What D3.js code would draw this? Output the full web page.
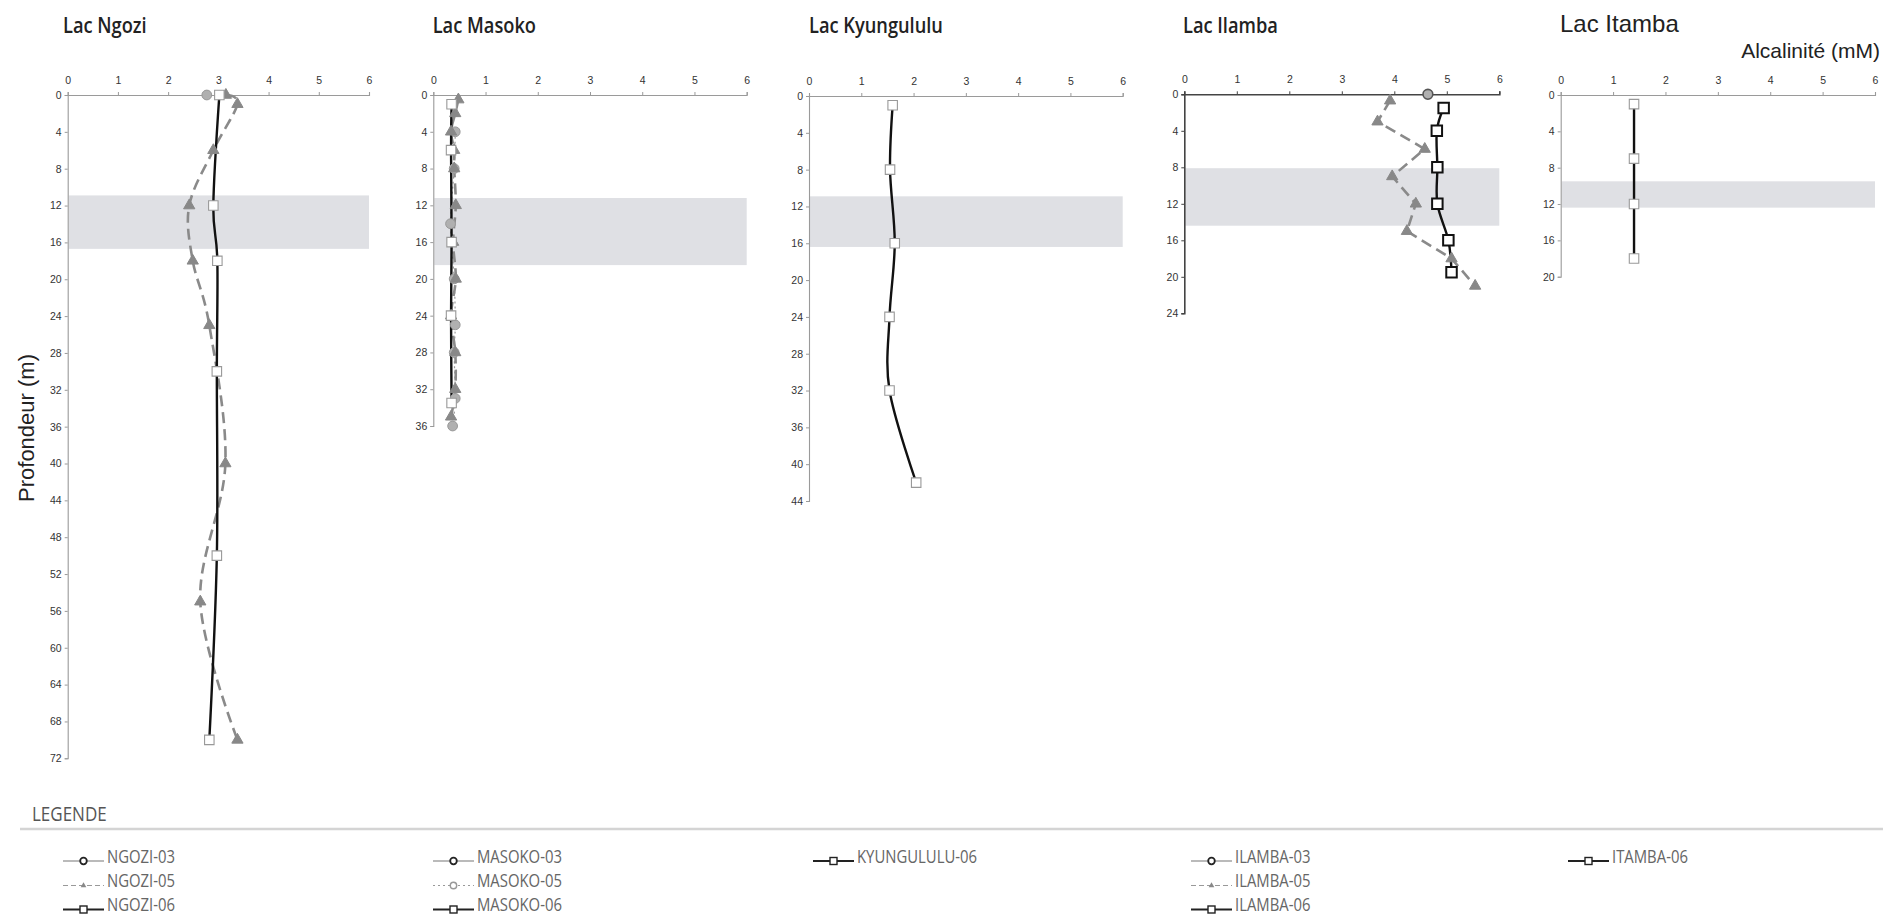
<!DOCTYPE html>
<html><head><meta charset="utf-8">
<script src="https://cdn.jsdelivr.net/npm/d3@7"></script>
<style>body{margin:0;background:#fff}svg{display:block}</style>
</head><body>
<svg id="c" width="1883" height="916"></svg>
<script>
// ---------- DATA ----------
const lakes = ["Lac Ngozi", "Lac Masoko", "Lac Kyungululu", "Lac Ilamba", "Lac Itamba"];
const maxDepth = [72, 36, 44, 24, 20];
const xTicks = [0, 1, 2, 3, 4, 5, 6];
const anoxicBands = [[10.9, 16.7], [11.2, 18.5], [10.9, 16.4], [8.1, 14.4], [9.5, 12.4]];

// [depth (m), alkalinity (mM)]
const ngozi03 = [[0, 2.77]];
const ngozi05 = [[0, 3.15], [1, 3.38], [6, 2.9], [12, 2.42], [18, 2.49], [25, 2.82], [40, 3.14], [55, 2.64], [70, 3.38]];
const ngozi06 = [[0, 3.02], [12, 2.9], [18, 2.98], [30, 2.97], [50, 2.97], [70, 2.82]];

const masoko03 = [[4, 0.42], [8, 0.40], [14, 0.33], [20, 0.40], [25, 0.42], [28, 0.40], [33, 0.42], [36, 0.37]];
const masoko05 = [[0.5, 0.48], [2, 0.42], [4, 0.34], [6, 0.40], [8, 0.40], [12, 0.43], [16, 0.38], [20, 0.43], [24, 0.34], [28, 0.42], [32, 0.42], [35, 0.34]];
const masoko06 = [[1, 0.35], [6, 0.34], [16, 0.35], [24, 0.34], [33.5, 0.35]];

const kyungululu06 = [[1, 1.60], [8, 1.55], [16, 1.64], [24, 1.54], [32, 1.54], [42, 2.05]];

const ilamba03 = [[0, 4.64]];
const ilamba05 = [[0.7, 3.92], [3, 3.68], [6, 4.58], [9, 3.96], [12, 4.41], [15, 4.24], [18, 5.09], [21, 5.54]];
const ilamba06 = [[1.5, 4.94], [4, 4.81], [8, 4.82], [12, 4.82], [16, 5.03], [19.5, 5.09]];

const itamba06 = [[1, 1.40], [7, 1.40], [12, 1.40], [18, 1.40]];

const legendCol1 = ["NGOZI-03", "NGOZI-05", "NGOZI-06"];
const legendCol2 = ["MASOKO-03", "MASOKO-05", "MASOKO-06"];
const legendCol3 = ["KYUNGULULU-06"];
const legendCol4 = ["ILAMBA-03", "ILAMBA-05", "ILAMBA-06"];
const legendCol5 = ["ITAMBA-06"];

// ---------- LAYOUT ----------
const svg = d3.select("#c");
const panels = [
  {x0: 67.7, x1: 369, y0: 95, y1: 758.3, tx: 63, dark: false},
  {x0: 433.3, x1: 746.7, y0: 95, y1: 426, tx: 432.7, dark: false},
  {x0: 809, x1: 1122.7, y0: 96, y1: 501, tx: 809, dark: false},
  {x0: 1184.3, x1: 1499.3, y0: 94.3, y1: 313.3, tx: 1183, dark: true},
  {x0: 1560.7, x1: 1875, y0: 95, y1: 276.7, tx: 1560, dark: false}
];
const seriesByPanel = [
  [{d: ngozi05, k: "05"}, {d: ngozi06, k: "06"}, {d: ngozi03, k: "03"}],
  [{d: masoko03, k: "03l"}, {d: masoko05, k: "05"}, {d: masoko06, k: "06"}],
  [{d: kyungululu06, k: "06"}],
  [{d: ilamba05, k: "05", lin: true}, {d: ilamba06, k: "06b"}, {d: ilamba03, k: "03"}],
  [{d: itamba06, k: "06", lin: true}]
];

const ff = "'Liberation Sans', Arial, sans-serif";
const cond = "'Open Sans', sans-serif";

panels.forEach((p, i) => {
  const g = svg.append("g");
  const x = d3.scaleLinear().domain([0, 6]).range([p.x0, p.x1]);
  const y = d3.scaleLinear().domain([0, maxDepth[i]]).range([p.y0, p.y1]);

  // band
  const b = anoxicBands[i];
  g.append("rect").attr("x", x(0) + 1).attr("y", y(b[0]))
    .attr("width", x(6) - x(0) - 1).attr("height", y(b[1]) - y(b[0]))
    .attr("fill", "#dfe0e4");

  const axCol = p.dark ? "#444" : "#9a9a9a";
  const ax = g.append("g").attr("transform", `translate(0,${y(0)})`)
    .call(d3.axisTop(x).tickValues(xTicks).tickFormat(d3.format("d")).tickSize(3).tickSizeOuter(3).tickPadding(8));
  const yTicks = d3.range(0, maxDepth[i] + 1, 4);
  const ay = g.append("g").attr("transform", `translate(${x(0)},0)`)
    .call(d3.axisLeft(y).tickValues(yTicks).tickFormat(d3.format("d")).tickSize(3).tickSizeOuter(3).tickPadding(3));
  [ax, ay].forEach(a => {
    a.select(".domain").attr("stroke", axCol).attr("stroke-width", p.dark ? 1.6 : 1.1);
    a.selectAll(".tick line").attr("stroke", axCol);
    a.selectAll("text").attr("fill", "#333").attr("font-family", ff).attr("font-size", 10.5);
  });

  // title
  if (i < 4) {
    svg.append("text").attr("transform", `translate(${p.tx},33) scale(0.83,1)`)
      .attr("font-family", cond).attr("font-weight", 600).attr("font-size", 22).attr("fill", "#222").text(lakes[i]);
  } else {
    svg.append("text").attr("x", p.tx).attr("y", 32)
      .attr("font-family", ff).attr("font-size", 24).attr("fill", "#222").text(lakes[i]);
  }

  const series = seriesByPanel[i];
  // lines
  series.forEach(s => {
    if (s.d.length < 2) return;
    const line = d3.line().x(d => x(d[1])).y(d => y(d[0]))
      .curve(s.lin ? d3.curveLinear : d3.curveCardinal.tension(0));
    const path = g.append("path").attr("d", line(s.d)).attr("fill", "none");
    if (s.k === "05") path.attr("stroke", "#8a8a8a").attr("stroke-width", 2.6).attr("stroke-dasharray", "11,6");
    else if (s.k === "03l") path.attr("stroke", "#999").attr("stroke-width", 1.2).attr("stroke-dasharray", "2,3");
    else path.attr("stroke", "#111").attr("stroke-width", 2.4);
  });
  // markers
  series.forEach(s => {
    const m = g.selectAll(null).data(s.d).enter().append("path")
      .attr("transform", d => `translate(${x(d[1])},${y(d[0])})`);
    if (s.k === "05") {
      m.attr("d", d3.symbol(d3.symbolTriangle, 55)()).attr("fill", "#888").attr("stroke", "#888");
    } else if (s.k === "03" || s.k === "03l") {
      m.attr("d", d3.symbol(d3.symbolCircle, 75)()).attr("fill", "#b0b0b0").attr("stroke", p.dark ? "#555" : "#999").attr("stroke-width", p.dark ? 1.6 : 1);
    } else if (s.k === "06b") {
      m.attr("d", d3.symbol(d3.symbolSquare, 110)()).attr("fill", "#fff").attr("stroke", "#111").attr("stroke-width", 2);
    } else {
      m.attr("d", d3.symbol(d3.symbolSquare, 90)()).attr("fill", "#fff").attr("stroke", "#999").attr("stroke-width", 1.1);
    }
  });
});

// axis titles
svg.append("text").attr("x", 1880).attr("y", 58).attr("text-anchor", "end")
  .attr("font-family", ff).attr("font-size", 21).attr("fill", "#222").text("Alcalinité (mM)");
svg.append("text").attr("transform", "translate(34,428) rotate(-90)").attr("text-anchor", "middle")
  .attr("font-family", ff).attr("font-size", 22).attr("fill", "#222").text("Profondeur (m)");

// ---------- LEGEND ----------
svg.append("text").attr("transform", "translate(32,820.7) scale(0.85,1)")
  .attr("font-family", cond).attr("font-size", 20).attr("fill", "#555").text("LEGENDE");
svg.append("line").attr("x1", 20).attr("x2", 1883).attr("y1", 829).attr("y2", 829)
  .attr("stroke", "#d4d4d4").attr("stroke-width", 2.5);

const legendCols = [legendCol1, legendCol2, legendCol3, legendCol4, legendCol5];
const colX = [63, 433, 813, 1191, 1568];
const rowY = [861, 885.5, 909.5];
legendCols.forEach((col, ci) => {
  col.forEach((name, ri) => {
    const lx = colX[ci], ly = rowY[ri];
    const kind = name.slice(-2);
    const gl = svg.append("g");
    const ln = gl.append("line").attr("x1", lx).attr("x2", lx + 41).attr("y1", ly).attr("y2", ly);
    const cx = lx + 20.5;
    if (kind === "03") {
      ln.attr("stroke", "#777").attr("stroke-width", 1.1);
      gl.append("circle").attr("cx", cx).attr("cy", ly).attr("r", 3.3).attr("fill", "#fff").attr("stroke", "#222").attr("stroke-width", 1.8);
    } else if (kind === "05" && name.startsWith("MASOKO")) {
      ln.attr("stroke", "#999").attr("stroke-width", 1.1).attr("stroke-dasharray", "2,3");
      gl.append("circle").attr("cx", cx).attr("cy", ly).attr("r", 3.2).attr("fill", "#fff").attr("stroke", "#999").attr("stroke-width", 1.4);
    } else if (kind === "05") {
      ln.attr("stroke", "#999").attr("stroke-width", 1.1).attr("stroke-dasharray", "5,3");
      gl.append("path").attr("transform", `translate(${cx},${ly})`).attr("d", d3.symbol(d3.symbolTriangle, 14)()).attr("fill", "#888");
    } else {
      ln.attr("stroke", "#222").attr("stroke-width", 2);
      gl.append("rect").attr("x", cx - 3.5).attr("y", ly - 3.5).attr("width", 7).attr("height", 7)
        .attr("fill", "#fff").attr("stroke", "#222").attr("stroke-width", 1.4);
    }
    svg.append("text").attr("transform", `translate(${lx + 44},${ly + 1.5}) scale(0.85,1)`)
      .attr("font-family", cond).attr("font-size", 17.5).attr("fill", "#666").text(name);
  });
});
</script>
</body></html>
